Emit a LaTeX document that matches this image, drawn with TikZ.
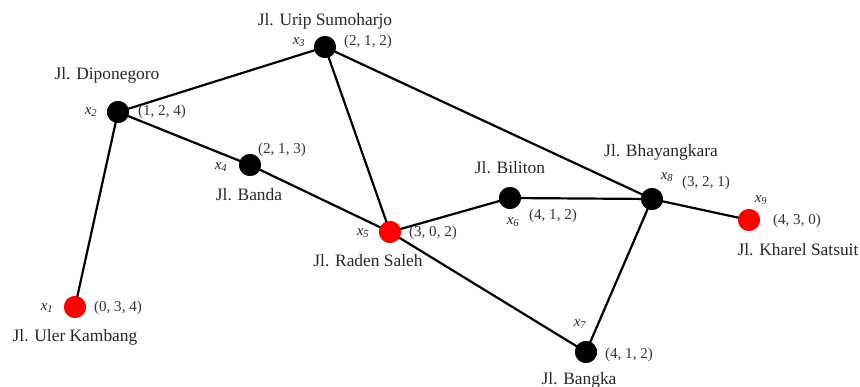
\documentclass[tikz,border=0pt]{standalone}
\usepackage{fontspec}
\setmainfont{Liberation Serif}
\begin{document}
\begin{tikzpicture}[x=1pt,y=-1pt,
  vertex/.style={circle,fill=black,inner sep=0pt,minimum size=22pt},
  goal/.style={vertex,fill=red},
  road/.style={line width=2.2pt,black},
  street/.style={font=\fontsize{17.4}{20}\selectfont,text=black!85,inner sep=0pt},
  tuple/.style={font=\fontsize{15.1}{18}\selectfont,text=black!80,inner sep=0pt},
  vname/.style={font=\fontsize{15}{16}\selectfont\itshape,text=black!85,inner sep=0pt}]
\useasboundingbox (0,0) rectangle (860,387);

% vertices
\node[goal]   (x1) at (75,307) {};
\node[vertex] (x2) at (118,112) {};
\node[vertex] (x3) at (325,47) {};
\node[vertex] (x4) at (250,165) {};
\node[goal]   (x5) at (390,232) {};
\node[vertex] (x6) at (510,198) {};
\node[vertex] (x7) at (586,352) {};
\node[vertex] (x8) at (652,199) {};
\node[goal]   (x9) at (749,220) {};

% roads
\draw[road] (x1.center) -- (x2.center);
\draw[road] (x2.center) -- (x3.center);
\draw[road] (x2.center) -- (x4.center);
\draw[road] (x4.center) -- (x5.center);
\draw[road] (x3.center) -- (x5.center);
\draw[road] (x3.center) -- (x8.center);
\draw[road] (x5.center) -- (x6.center);
\draw[road] (x6.center) -- (x8.center);
\draw[road] (x5.center) -- (x7.center);
\draw[road] (x7.center) -- (x8.center);
\draw[road] (x8.center) -- (x9.center);

% redraw discs over the road ends
\node[goal]   at (x1) {};
\node[vertex] at (x2) {};
\node[vertex] at (x3) {};
\node[vertex] at (x4) {};
\node[goal]   at (x5) {};
\node[vertex] at (x6) {};
\node[vertex] at (x7) {};
\node[vertex] at (x8) {};
\node[goal]   at (x9) {};

% street names
\node[street] (s1) at (75,337) {Jl. Uler Kambang};
\node[street] (s2) at (107,75) {Jl. Diponegoro};
\node[street] (s3) at (325,21) {Jl. Urip Sumoharjo};
\node[street] (s4) at (249,195) {Jl. Banda};
\node[street] (s5) at (368,261) {Jl. Raden Saleh};
\node[street] (s6) at (510,168) {Jl. Biliton};
\node[street] (s7) at (579,380) {Jl. Bangka};
\node[street] (s8) at (661,152) {Jl. Bhayangkara};
\node[street] (s9) at (798,250) {Jl. Kharel Satsuit};

% vertex names
\node[vname] (n1) at (47,308) {x\textsubscript{1}};
\node[vname] (n2) at (91,112) {x\textsubscript{2}};
\node[vname] (n3) at (299,42) {x\textsubscript{3}};
\node[vname] (n4) at (221,167) {x\textsubscript{4}};
\node[vname] (n5) at (363,233) {x\textsubscript{5}};
\node[vname] (n6) at (513,222) {x\textsubscript{6}};
\node[vname] (n7) at (580,324) {x\textsubscript{7}};
\node[vname] (n8) at (667,177) {x\textsubscript{8}};
\node[vname] (n9) at (761,200) {x\textsubscript{9}};

% state tuples
\node[tuple] (t1) at (118,308) {(0, 3, 4)};
\node[tuple] (t2) at (162,112) {(1, 2, 4)};
\node[tuple] (t3) at (368,42) {(2, 1, 2)};
\node[tuple] (t4) at (282,150) {(2, 1, 3)};
\node[tuple] (t5) at (433,233) {(3, 0, 2)};
\node[tuple] (t6) at (553,216) {(4, 1, 2)};
\node[tuple] (t7) at (629,355) {(4, 1, 2)};
\node[tuple] (t8) at (706,183) {(3, 2, 1)};
\node[tuple] (t9) at (797,221) {(4, 3, 0)};
\end{tikzpicture}
\end{document}
